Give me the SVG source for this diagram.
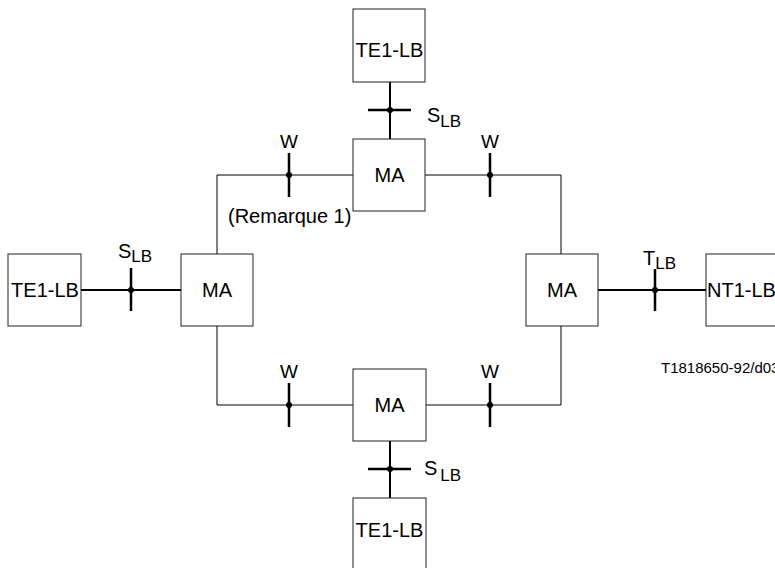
<svg xmlns="http://www.w3.org/2000/svg" width="775" height="568" viewBox="0 0 775 568">
<style>
.box{fill:#fff;stroke:#222;stroke-width:1}
.t{font-family:"Liberation Sans",Arial,sans-serif;font-size:20px;fill:#000}
.w{font-family:"Liberation Sans",Arial,sans-serif;font-size:19px;fill:#000;text-anchor:middle}
.sub{font-size:17px}
.ring{stroke:#000;stroke-width:1;fill:none}
.link{stroke:#000;stroke-width:2;fill:none}
.tick{stroke:#000;stroke-width:2.5}
</style>
<rect width="775" height="568" fill="#fff"/>
<g id="connectors">
  <polyline class="ring" points="353,175 217,175 217,254"/>
  <polyline class="ring" points="425,175 561,175 561,254"/>
  <polyline class="ring" points="217,326 217,405 353,405"/>
  <polyline class="ring" points="561,326 561,405 426,405"/>
  <line class="link" x1="390" y1="82" x2="390" y2="139"/>
  <line class="link" x1="81" y1="290" x2="181" y2="290"/>
  <line class="link" x1="598" y1="290" x2="706" y2="290"/>
  <line class="link" x1="390" y1="441" x2="390" y2="498"/>
  <line class="tick" x1="368" y1="110" x2="411" y2="110"/><circle cx="390" cy="110" r="3"/>
  <line class="tick" x1="131" y1="268" x2="131" y2="311"/><circle cx="131" cy="290" r="3"/>
  <line class="tick" x1="655" y1="269" x2="655" y2="311"/><circle cx="655" cy="290" r="3"/>
  <line class="tick" x1="368" y1="469" x2="411" y2="469"/><circle cx="390" cy="469" r="3"/>
  <line class="tick" x1="289" y1="153" x2="289" y2="197"/><circle cx="289" cy="175" r="3"/>
  <line class="tick" x1="490" y1="153" x2="490" y2="197"/><circle cx="490" cy="175" r="3"/>
  <line class="tick" x1="289" y1="383" x2="289" y2="427"/><circle cx="289" cy="405" r="3"/>
  <line class="tick" x1="490" y1="383" x2="490" y2="427"/><circle cx="490" cy="405" r="3"/>
</g>
<g id="te-top"><rect class="box" x="353" y="9" width="72" height="73"/><text class="t" x="389.5" y="57" text-anchor="middle">TE1-LB</text></g>
<g id="ma-top"><rect class="box" x="353" y="139" width="72" height="72"/><text class="t" x="389.5" y="182" text-anchor="middle">MA</text></g>
<g id="te-left"><rect class="box" x="8" y="254" width="73" height="72"/><text class="t" x="45" y="297" text-anchor="middle">TE1-LB</text></g>
<g id="ma-left"><rect class="box" x="181" y="254" width="72" height="72"/><text class="t" x="217" y="297" text-anchor="middle">MA</text></g>
<g id="ma-right"><rect class="box" x="526" y="254" width="72" height="72"/><text class="t" x="562" y="297" text-anchor="middle">MA</text></g>
<g id="nt-right"><rect class="box" x="706" y="254" width="80" height="72"/><text class="t" x="707" y="297">NT1-LB</text></g>
<g id="ma-bottom"><rect class="box" x="353" y="369" width="73" height="72"/><text class="t" x="389.5" y="412" text-anchor="middle">MA</text></g>
<g id="te-bottom"><rect class="box" x="353" y="498" width="73" height="80"/><text class="t" x="389.5" y="537" text-anchor="middle">TE1-LB</text></g>
<g id="labels">
  <text class="t" x="427" y="122">S<tspan class="sub" dy="5">LB</tspan></text>
  <text class="t" x="118" y="258">S<tspan class="sub" dy="4">LB</tspan></text>
  <text class="t" x="643" y="265">T<tspan class="sub" dy="4">LB</tspan></text>
  <text class="t" x="424" y="475">S<tspan class="sub" dx="3" dy="6">LB</tspan></text>
  <text class="w" x="289" y="148">W</text>
  <text class="w" x="490" y="148">W</text>
  <text class="w" x="289" y="378">W</text>
  <text class="w" x="490" y="378">W</text>
  <text class="t" x="228" y="223">(Remarque 1)</text>
  <text class="t" x="661" y="373" style="font-size:15px">T1818650-92/d03</text>
</g>
</svg>
